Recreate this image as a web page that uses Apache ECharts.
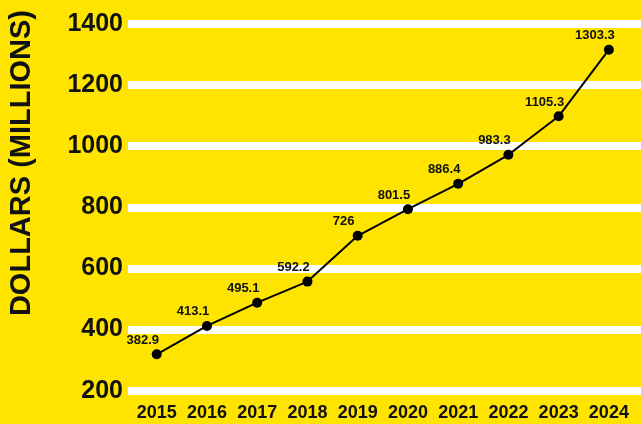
<!DOCTYPE html>
<html>
<head>
<meta charset="utf-8">
<script src="https://cdn.jsdelivr.net/npm/echarts@6/dist/echarts.min.js"></script>
<style>
html,body{margin:0;padding:0;background:#FFE400;}
#c{width:641px;height:424px;}
</style>
</head>
<body>
<div id="c"></div>
<script>
var years = ['2015','2016','2017','2018','2019','2020','2021','2022','2023','2024'];
var plottedValues = [319, 412, 488, 557, 707, 794, 877, 972, 1098, 1316];
var labelTexts = ['382.9','413.1','495.1','592.2','726','801.5','886.4','983.3','1105.3','1303.3'];
var yTicks = [200, 400, 600, 800, 1000, 1200, 1400];
var yAxisTitle = 'DOLLARS (MILLIONS)';

var chart = echarts.init(document.getElementById('c'));
var font = 'Liberation Sans, Arial, Helvetica, sans-serif';
chart.setOption({
  backgroundColor: '#FFE400',
  animation: false,
  grid: [
    {left: 128, right: 0, top: 24, bottom: 33.3},
    {left: 131.6, right: 7, top: 24, bottom: 33.3}
  ],
  xAxis: [
    {gridIndex: 0, type: 'category', data: years, show: false},
    {gridIndex: 1, type: 'category', data: years, boundaryGap: true,
     axisLine: {show: false}, axisTick: {show: false}, splitLine: {show: false},
     axisLabel: {interval: 0, color: '#111', fontFamily: font, fontWeight: 'bold', fontSize: 18, margin: 13}}
  ],
  yAxis: [
    {gridIndex: 0, type: 'value', min: yTicks[0], max: yTicks[yTicks.length-1], interval: 200,
     axisLine: {show: false}, axisTick: {show: false},
     splitLine: {show: true, lineStyle: {color: '#FFFFFF', width: 8}},
     axisLabel: {color: '#111', fontFamily: font, fontWeight: 'bold', fontSize: 25, margin: 5,
                 formatter: function(v){ return String(v); }}},
    {gridIndex: 1, type: 'value', min: yTicks[0], max: yTicks[yTicks.length-1], interval: 200, show: false}
  ],
  graphic: [{
    type: 'text',
    left: 7,
    top: 10,
    rotation: Math.PI / 2,
    style: {text: yAxisTitle, fill: '#111', font: 'bold 29px ' + font}
  }],
  series: [{
    type: 'line',
    xAxisIndex: 1, yAxisIndex: 1,
    data: plottedValues,
    symbol: 'circle', symbolSize: 10,
    lineStyle: {color: '#000', width: 2},
    itemStyle: {color: '#000'},
    label: {
      show: true, position: 'inside', offset: [-14, -14],
      formatter: function(p){ return labelTexts[p.dataIndex]; },
      color: '#111', fontFamily: font, fontWeight: 'bold', fontSize: 13
    }
  }]
});
</script>
</body>
</html>
